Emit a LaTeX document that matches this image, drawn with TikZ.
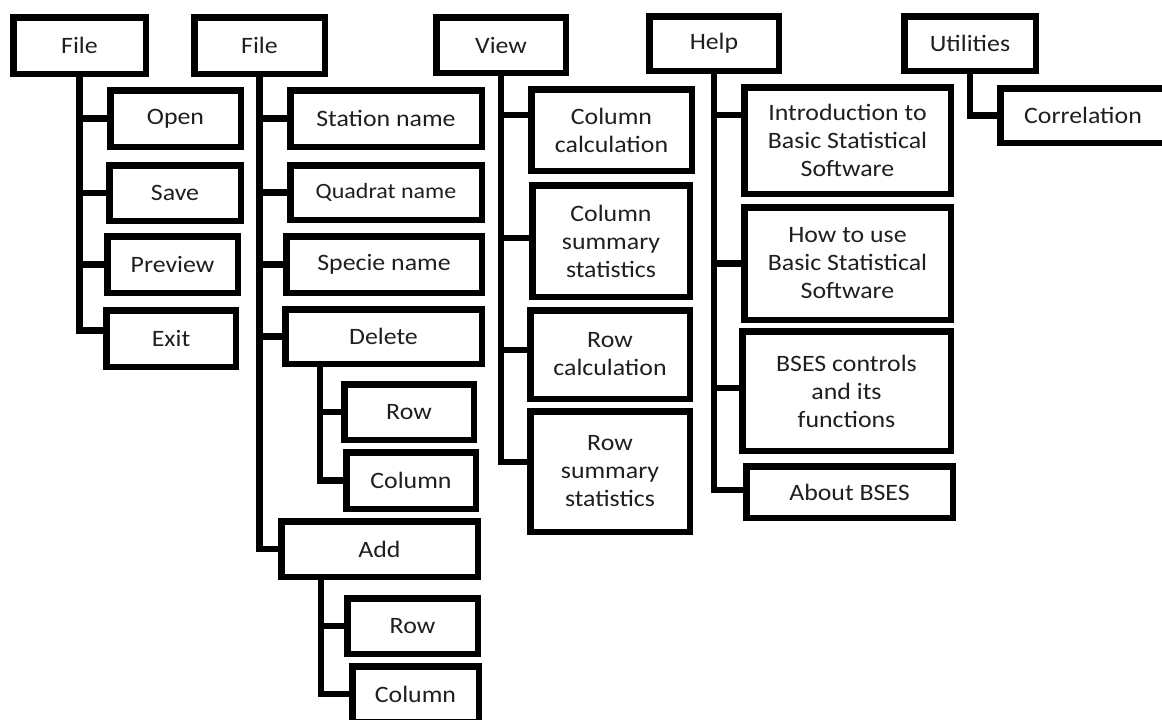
\documentclass[tikz,border=0pt]{standalone}
\usepackage{fontspec}
\setmainfont{Carlito}[FakeStretch=1.1]
\begin{document}
\begin{tikzpicture}[x=1pt,y=-1pt,
  box/.style={draw=black,line width=6.5pt,fill=white,inner sep=1pt,align=center,
    font=\fontsize{23.5}{28}\selectfont,text=black!88},
  conn/.style={draw=black,line width=6.5pt,line join=miter}]
\useasboundingbox (0,0) rectangle (1162,720);
\clip (0,0) rectangle (1162,720);
% top level
\node[box,minimum width=132.5pt,minimum height=56.5pt] (f1) at (79.5,45.5) {File};
\node[box,minimum width=130.5pt,minimum height=56.5pt] (f2) at (259.5,45.5) {File};
\node[box,minimum width=129.5pt,minimum height=55.5pt] (view) at (501,45) {View};
\node[box,minimum width=129.5pt,minimum height=54.5pt] (help) at (714,43.5) {Help};
\node[box,minimum width=131.5pt,minimum height=54.5pt] (util) at (970,43.5) {Utilities};
% File 1
\node[box,minimum width=130.5pt,minimum height=56.5pt] (open) at (175.5,118.5) {Open};
\node[box,minimum width=131.5pt,minimum height=55.5pt] (save) at (175,193) {Save};
\node[box,minimum width=130.5pt,minimum height=56.5pt] (prev) at (172.5,264.5) {Preview};
\node[box,minimum width=129.5pt,minimum height=56.5pt] (exit) at (171,338.5) {Exit};
% File 2
\node[box,minimum width=191.5pt,minimum height=56.5pt] (stat) at (386,118.5) {Station name};
\node[box,minimum width=191.5pt,minimum height=54.5pt,font=\fontsize{21.8}{26}\selectfont] (quad) at (386,192.5) {Quadrat name};
\node[box,minimum width=195.5pt,minimum height=56.5pt] (spec) at (384,264.5) {Specie name};
\node[box,minimum width=196.5pt,minimum height=54.5pt] (del) at (383.5,336.5) {Delete};
\node[box,minimum width=129.5pt,minimum height=55.5pt] (r1) at (409,412) {Row};
\node[box,minimum width=129.5pt,minimum height=56.5pt] (c1) at (411,480.5) {Column};
\node[box,minimum width=196.5pt,minimum height=55.5pt] (add) at (379.5,549) {Add};
\node[box,minimum width=130.5pt,minimum height=55.5pt] (r2) at (412.5,626) {Row};
\node[box,minimum width=126.5pt,minimum height=55.5pt] (c2) at (415.5,694) {Column};
% View
\node[box,minimum width=160.5pt,minimum height=81.5pt] (cc) at (611.5,130) {Column\\calculation};
\node[box,minimum width=157.5pt,minimum height=111.5pt] (cs) at (611,241) {Column\\summary\\statistics};
\node[box,minimum width=159.5pt,minimum height=88.5pt] (rc) at (610,354.5) {Row\\calculation};
\node[box,minimum width=159.5pt,minimum height=120.5pt] (rs) at (610,471.5) {Row\\summary\\statistics};
% Help
\node[box,minimum width=206.5pt,minimum height=106.5pt] (intro) at (847.5,140.5) {Introduction to\\Basic Statistical\\Software};
\node[box,minimum width=206.5pt,minimum height=112.5pt] (how) at (847.5,263.5) {How to use\\Basic Statistical\\Software};
\node[box,minimum width=208.5pt,minimum height=119.5pt] (bses) at (846.5,391) {BSES controls\\and its\\functions};
\node[box,minimum width=206.5pt,minimum height=51.5pt] (about) at (849.5,492) {About BSES};
% Utilities
\node[box,minimum width=165.5pt,minimum height=54.5pt] (corr) at (1083,115.5) {Correlation};
% connectors
\draw[conn] (f1.south) |- ([yshift=8pt]exit.west);
\foreach \n in {open,save,prev} \draw[conn] (f1.south |- \n.west) -- (\n.west);
\draw[conn] (f2.south) |- (add.west);
\foreach \n in {stat,quad,spec,del} \draw[conn] (f2.south |- \n.west) -- (\n.west);
\coordinate (dt) at ([xshift=-63.5pt]del.south);
\draw[conn] (dt) |- (c1.west);
\draw[conn] (dt |- r1.west) -- (r1.west);
\coordinate (at) at ([xshift=-58.5pt]add.south);
\draw[conn] (at) |- (c2.west);
\draw[conn] (at |- r2.west) -- (r2.west);
\draw[conn] (view.south) |- ([yshift=9.5pt]rs.west);
\draw[conn] (view.south |- 0,115) -- ([yshift=15pt]cc.west);
\draw[conn] (view.south |- 0,238) -- ([yshift=3pt]cs.west);
\draw[conn] (view.south |- 0,350) -- ([yshift=4.5pt]rc.west);
\draw[conn] (help.south) |- ([yshift=2pt]about.west);
\draw[conn] (help.south |- 0,115) -- ([yshift=25.5pt]intro.west);
\draw[conn] (help.south |- how.west) -- (how.west);
\draw[conn] (help.south |- 0,388) -- ([yshift=3pt]bses.west);
\draw[conn] (util.south) |- (corr.west);
\end{tikzpicture}
\end{document}
